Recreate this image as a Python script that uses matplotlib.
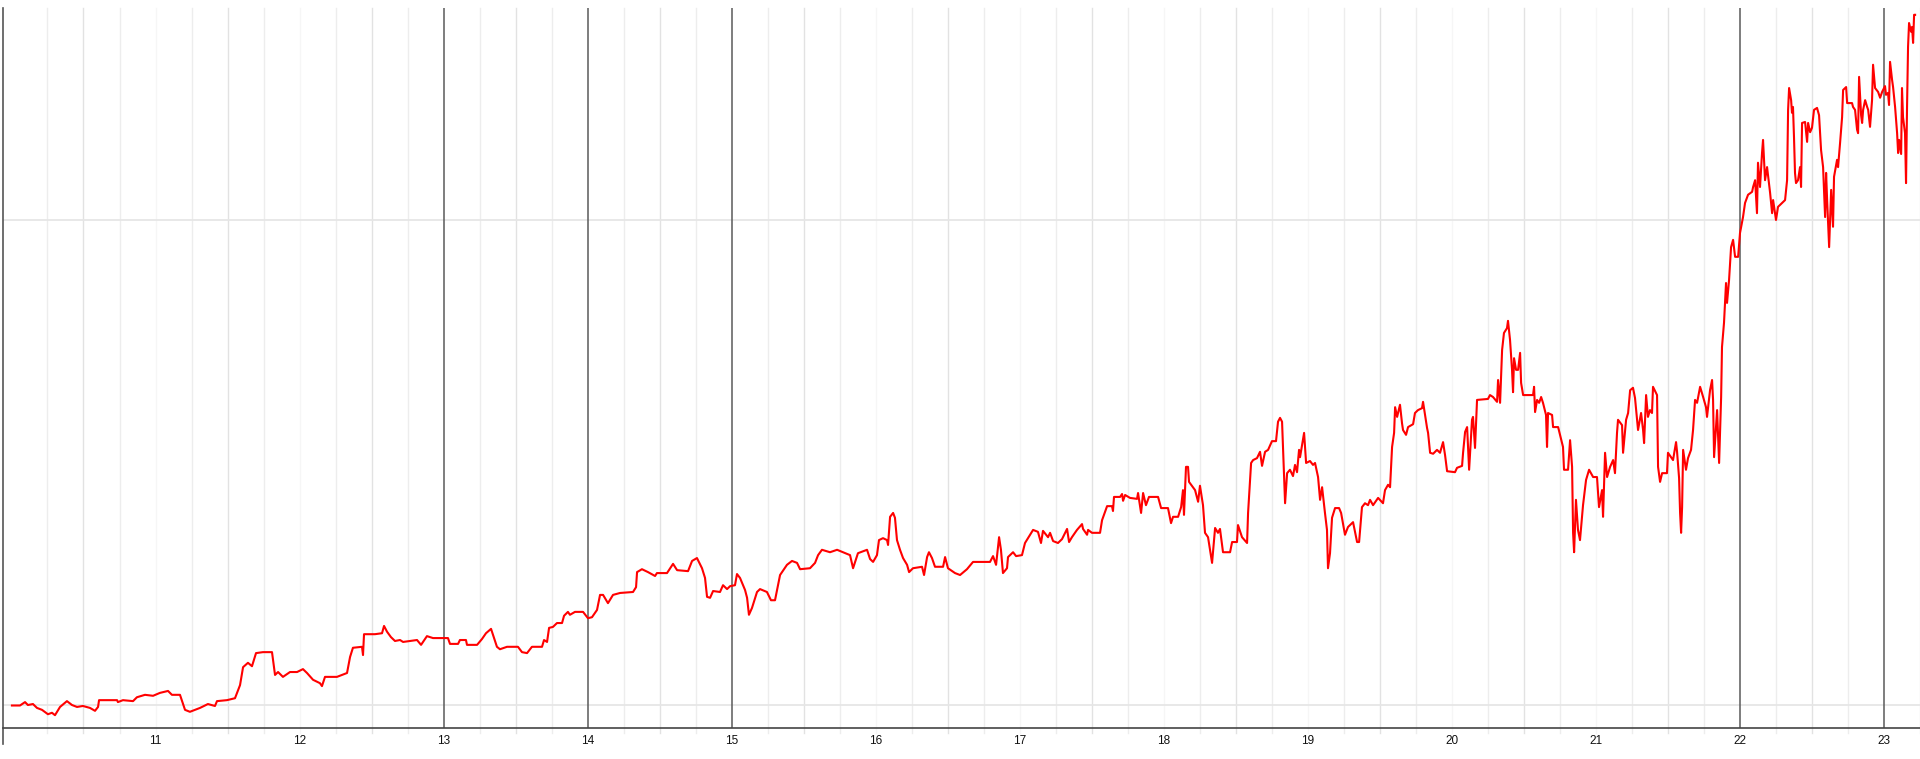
import matplotlib
matplotlib.use("Agg")
import matplotlib.pyplot as plt
import numpy as np

# time axis (fractional units) and series values (gridlines at 0 and 100)
t = [10.003, 10.059, 10.094, 10.114, 10.149, 10.177, 10.212, 10.253, 10.281, 10.302,
     10.337, 10.385, 10.420, 10.455, 10.496, 10.545, 10.580, 10.601, 10.608, 10.733,
     10.739, 10.774, 10.844, 10.871, 10.927, 10.983, 11.031, 11.087, 11.114, 11.170,
     11.205, 11.239, 11.309, 11.364, 11.413, 11.427, 11.496, 11.552, 11.587, 11.608,
     11.642, 11.670, 11.698, 11.746, 11.809, 11.816, 11.830, 11.851, 11.885, 11.934,
     11.983, 12.024, 12.052, 12.094, 12.142, 12.156, 12.177, 12.260, 12.330, 12.351,
     12.371, 12.434, 12.441, 12.448, 12.524, 12.573, 12.587, 12.608, 12.635, 12.663,
     12.698, 12.719, 12.816, 12.844, 12.885, 12.927, 13.031, 13.045, 13.101, 13.114,
     13.156, 13.163, 13.233, 13.267, 13.295, 13.330, 13.351, 13.371, 13.392, 13.441,
     13.517, 13.545, 13.580, 13.614, 13.684, 13.698, 13.719, 13.733, 13.760, 13.788,
     13.823, 13.837, 13.864, 13.878, 13.913, 13.969, 14.003, 14.031, 14.066, 14.087,
     14.108, 14.142, 14.177, 14.226, 14.316, 14.337, 14.344, 14.378, 14.420, 14.469,
     14.482, 14.552, 14.594, 14.622, 14.698, 14.726, 14.760, 14.795, 14.816, 14.830,
     14.851, 14.872, 14.920, 14.941, 14.969, 14.990, 15.024, 15.038, 15.059, 15.094,
     15.108, 15.121, 15.142, 15.177, 15.198, 15.246, 15.274, 15.302, 15.337, 15.385,
     15.420, 15.455, 15.476, 15.545, 15.580, 15.601, 15.628, 15.684, 15.733, 15.823,
     15.844, 15.878, 15.941, 15.962, 15.983, 16.010, 16.024, 16.052, 16.080, 16.087,
     16.101, 16.122, 16.135, 16.149, 16.170, 16.191, 16.219, 16.233, 16.260, 16.323,
     16.337, 16.358, 16.371, 16.392, 16.413, 16.469, 16.483, 16.503, 16.552, 16.587,
     16.635, 16.677, 16.795, 16.816, 16.837, 16.858, 16.871, 16.885, 16.913, 16.920,
     16.955, 16.976, 17.017, 17.038, 17.094, 17.128, 17.149, 17.163, 17.198, 17.212,
     17.233, 17.267, 17.295, 17.330, 17.344, 17.364, 17.399, 17.434, 17.441, 17.469,
     17.476, 17.503, 17.559, 17.573, 17.608, 17.642, 17.649, 17.656, 17.698, 17.712,
     17.719, 17.733, 17.767, 17.816, 17.823, 17.844, 17.858, 17.878, 17.899, 17.962,
     17.983, 18.031, 18.052, 18.066, 18.101, 18.122, 18.135, 18.142, 18.156, 18.170,
     18.177, 18.219, 18.240, 18.253, 18.274, 18.288, 18.309, 18.337, 18.358, 18.378,
     18.392, 18.413, 18.462, 18.476, 18.510, 18.517, 18.545, 18.580, 18.587, 18.608,
     18.622, 18.649, 18.670, 18.684, 18.705, 18.726, 18.753, 18.781, 18.795, 18.809,
     18.823, 18.830, 18.837, 18.844, 18.858, 18.878, 18.899, 18.913, 18.927, 18.941,
     18.948, 18.976, 18.990, 19.017, 19.038, 19.052, 19.073, 19.087, 19.101, 19.121,
     19.135, 19.142, 19.156, 19.170, 19.191, 19.219, 19.233, 19.260, 19.281, 19.316,
     19.344, 19.358, 19.378, 19.399, 19.420, 19.434, 19.455, 19.490, 19.524, 19.538,
     19.559, 19.573, 19.587, 19.601, 19.608, 19.622, 19.642, 19.656, 19.663, 19.684,
     19.698, 19.733, 19.746, 19.767, 19.795, 19.802, 19.830, 19.837, 19.851, 19.872,
     19.899, 19.920, 19.941, 19.955, 19.969, 20.024, 20.038, 20.073, 20.080, 20.094,
     20.108, 20.122, 20.142, 20.149, 20.163, 20.177, 20.253, 20.267, 20.288, 20.316,
     20.323, 20.337, 20.351, 20.364, 20.385, 20.392, 20.406, 20.420, 20.427, 20.434,
     20.448, 20.462, 20.476, 20.483, 20.497, 20.566, 20.573, 20.580, 20.594, 20.608,
     20.622, 20.635, 20.656, 20.663, 20.670, 20.698, 20.705, 20.740, 20.753, 20.774,
     20.781, 20.809, 20.823, 20.837, 20.844, 20.851, 20.864, 20.878, 20.892, 20.913,
     20.934, 20.955, 20.983, 21.010, 21.024, 21.045, 21.052, 21.066, 21.080, 21.101,
     21.122, 21.135, 21.149, 21.156, 21.184, 21.191, 21.212, 21.226, 21.240, 21.260,
     21.274, 21.295, 21.316, 21.330, 21.337, 21.351, 21.364, 21.378, 21.392, 21.399,
     21.427, 21.434, 21.448, 21.462, 21.496, 21.503, 21.538, 21.559, 21.566, 21.580,
     21.587, 21.594, 21.601, 21.608, 21.628, 21.642, 21.663, 21.677, 21.691, 21.705,
     21.726, 21.747, 21.767, 21.774, 21.795, 21.809, 21.816, 21.823, 21.844, 21.858,
     21.872, 21.878, 21.892, 21.906, 21.913, 21.927, 21.941, 21.955, 21.969, 21.990,
     22.003, 22.024, 22.038, 22.059, 22.087, 22.094, 22.108, 22.121, 22.128, 22.142,
     22.156, 22.163, 22.177, 22.191, 22.212, 22.226, 22.233, 22.253, 22.267, 22.295,
     22.316, 22.330, 22.337, 22.344, 22.358, 22.364, 22.371, 22.378, 22.385, 22.392,
     22.406, 22.420, 22.427, 22.434, 22.455, 22.469, 22.476, 22.490, 22.503, 22.517,
     22.538, 22.552, 22.566, 22.580, 22.587, 22.594, 22.601, 22.608, 22.622, 22.636,
     22.649, 22.656, 22.677, 22.684, 22.698, 22.712, 22.719, 22.740, 22.747, 22.781,
     22.788, 22.802, 22.816, 22.823, 22.830, 22.844, 22.851, 22.858, 22.872, 22.886,
     22.893, 22.906, 22.920, 22.927, 22.941, 22.962, 22.976, 22.990, 23.010, 23.017,
     23.031, 23.038, 23.045, 23.059, 23.066, 23.080, 23.094, 23.101, 23.108, 23.122,
     23.128, 23.135, 23.149, 23.156, 23.163, 23.170, 23.177, 23.191, 23.198, 23.205,
     23.212, 23.219]

v = [-0.1, -0.1, 0.6, 0.0, 0.2, -0.6, -1.0, -1.9, -1.6, -2.1,
     -0.4, 0.8, 0.0, -0.4, -0.2, -0.6, -1.2, -0.4, 1.0, 1.0,
     0.6, 1.0, 0.8, 1.6, 2.1, 1.9, 2.5, 2.9, 2.1, 2.1,
     -1.0, -1.4, -0.6, 0.2, -0.2, 0.8, 1.0, 1.4, 4.1, 7.8,
     8.7, 8.0, 10.7, 10.9, 10.9, 9.3, 6.2, 6.8, 5.8, 6.8,
     6.8, 7.4, 6.6, 5.2, 4.5, 3.9, 5.8, 5.8, 6.6, 9.9,
     11.8, 12.0, 10.3, 14.6, 14.6, 14.8, 16.3, 15.1, 14.0, 13.2,
     13.4, 13.0, 13.4, 12.4, 14.2, 13.8, 13.8, 12.6, 12.6, 13.4,
     13.4, 12.4, 12.4, 13.6, 14.8, 15.7, 13.8, 12.0, 11.5, 12.0,
     12.0, 10.9, 10.7, 12.0, 12.0, 13.4, 13.0, 15.9, 16.1, 16.9,
     16.9, 18.4, 19.2, 18.6, 19.2, 19.2, 17.9, 18.1, 19.6, 22.7,
     22.7, 21.0, 22.7, 23.1, 23.3, 24.3, 27.4, 28.0, 27.4, 26.6,
     27.2, 27.2, 29.1, 27.8, 27.6, 29.7, 30.3, 28.2, 26.2, 22.3,
     22.1, 23.5, 23.3, 24.7, 23.9, 24.5, 24.7, 27.0, 26.2, 23.7,
     22.1, 18.6, 20.0, 23.3, 23.9, 23.3, 21.6, 21.6, 26.8, 28.9,
     29.7, 29.3, 28.0, 28.2, 29.3, 30.9, 32.0, 31.5, 32.0, 30.9,
     28.2, 31.3, 32.0, 30.1, 29.5, 30.9, 34.0, 34.4, 34.0, 33.0,
     38.8, 39.6, 38.6, 34.0, 32.0, 30.3, 28.9, 27.4, 28.2, 28.5,
     26.8, 30.5, 31.5, 30.3, 28.5, 28.5, 30.5, 28.2, 27.2, 26.8,
     28.0, 29.5, 29.5, 30.7, 28.9, 34.6, 32.0, 27.2, 28.2, 30.5,
     31.5, 30.7, 30.9, 33.4, 36.1, 35.7, 33.4, 35.9, 34.6, 35.5,
     33.8, 33.4, 34.2, 36.3, 33.6, 34.6, 36.1, 37.3, 36.3, 35.1,
     36.1, 35.5, 35.5, 38.1, 41.0, 41.0, 40.0, 42.9, 42.9, 43.5,
     42.1, 43.3, 42.7, 42.5, 43.7, 39.6, 43.7, 41.2, 42.9, 42.9,
     40.6, 40.6, 37.5, 38.8, 38.8, 40.8, 44.3, 39.2, 49.1, 49.1,
     46.0, 44.3, 41.9, 45.2, 41.2, 35.5, 34.6, 29.3, 36.5, 35.5,
     36.3, 31.5, 31.5, 33.6, 33.6, 37.1, 34.6, 33.4, 39.6, 49.9,
     50.5, 50.9, 52.2, 49.3, 52.2, 52.6, 54.4, 54.4, 58.4, 59.2,
     58.4, 52.6, 47.0, 41.6, 47.8, 48.5, 47.2, 49.5, 48.0, 52.6,
     51.1, 56.1, 49.9, 50.3, 49.5, 49.9, 47.0, 42.3, 44.9, 39.6,
     36.1, 28.2, 31.3, 38.6, 40.6, 40.6, 39.6, 35.1, 36.7, 37.7,
     33.6, 33.6, 40.8, 41.6, 41.2, 42.3, 41.2, 42.7, 41.6, 44.3,
     45.4, 44.9, 53.2, 56.1, 61.4, 59.4, 61.9, 58.1, 56.7, 55.7,
     57.3, 57.9, 60.2, 60.8, 61.2, 62.5, 57.1, 56.1, 52.0, 51.8,
     52.6, 52.0, 54.2, 51.5, 48.2, 48.0, 48.9, 49.3, 52.0, 56.3,
     57.3, 48.5, 58.8, 59.4, 53.0, 62.9, 63.1, 63.9, 63.5, 62.5,
     67.0, 62.3, 73.2, 76.7, 77.7, 79.2, 75.3, 69.1, 64.5, 71.5,
     69.1, 69.1, 72.6, 66.4, 63.9, 63.9, 65.6, 60.4, 62.9, 62.3,
     63.5, 62.3, 59.8, 53.2, 60.2, 59.8, 57.3, 57.3, 55.7, 53.2,
     48.5, 48.5, 54.6, 49.1, 35.5, 31.5, 42.3, 36.1, 34.0, 41.2,
     46.4, 48.5, 47.0, 47.0, 40.8, 44.3, 38.8, 52.0, 47.0, 49.1,
     50.5, 47.8, 56.1, 58.8, 57.7, 52.0, 58.8, 60.2, 64.9, 65.4,
     63.3, 56.7, 60.2, 56.7, 54.0, 63.9, 59.4, 60.8, 60.2, 65.6,
     63.9, 49.1, 46.0, 47.8, 47.8, 52.0, 50.5, 54.2, 52.2, 46.8,
     39.6, 35.5, 40.8, 52.6, 48.5, 50.9, 52.6, 56.7, 62.9, 62.3,
     65.6, 63.5, 61.4, 59.4, 64.9, 67.0, 62.9, 51.1, 60.8, 49.9,
     63.5, 73.8, 78.8, 87.0, 82.9, 87.6, 94.4, 95.9, 92.4, 92.4,
     97.3, 100.6, 103.5, 105.2, 105.8, 106.8, 108.2, 101.4, 111.8, 106.8,
     113.8, 116.5, 108.2, 110.9, 105.6, 101.4, 104.1, 100.0, 102.7, 103.5,
     104.1, 108.2, 122.7, 127.2, 124.7, 122.1, 123.3, 117.1, 109.7, 107.6,
     108.2, 110.9, 106.8, 120.0, 120.2, 116.1, 120.0, 118.1, 119.0, 122.7,
     123.1, 121.6, 114.4, 110.9, 105.6, 100.6, 109.7, 104.1, 94.4, 106.2,
     98.6, 108.9, 112.4, 110.9, 115.9, 121.2, 126.8, 127.4, 124.1, 124.1,
     123.3, 122.7, 118.6, 117.9, 129.5, 121.6, 120.0, 122.7, 124.7, 123.3,
     122.7, 119.2, 124.7, 132.0, 127.2, 126.4, 125.2, 126.4, 127.6, 125.8,
     126.2, 123.7, 132.6, 128.9, 127.4, 123.3, 117.9, 113.8, 116.5, 113.6,
     127.2, 121.2, 117.9, 107.6, 123.3, 135.7, 140.6, 138.8, 139.8, 136.5,
     142.3, 142.3]

tick_vals = list(range(11, 24))
tick_labels = [str(k) for k in tick_vals]
dark_lines = [13, 14, 15, 22, 23]
h_lines = [0, 100]

fig = plt.figure(figsize=(19.2, 7.59), dpi=100)
ax = fig.add_axes([3 / 1920, 1 - 728 / 759, 1 - 3 / 1920, 720 / 759])
ax.set_xlim(9.941, 23.253)
ax.set_ylim(-4.74, 143.7)

# light quarter grid, slightly poking below the axis
ext = -5 / 720
for q in np.arange(10.25, 23.3, 0.25):
    if round(q) in dark_lines and abs(q - round(q)) < 1e-6:
        continue
    frac = q % 1
    if abs(frac) < 1e-6:
        col = "#f6f6f6"
    elif abs(frac - 0.5) < 1e-6:
        col = "#e2e2e2"
    else:
        col = "#ededed"
    ax.axvline(q, ymin=ext, ymax=1, color=col, lw=1.0, clip_on=False, zorder=1)

for d in dark_lines:
    ax.axvline(d, color="#5a5a5a", lw=1.1, zorder=2)

for h in h_lines:
    ax.axhline(h, color="#e6e6e6", lw=1.3, zorder=1)

ax.plot(t, v, color="#ff0000", lw=1.5, zorder=3)

for s in ["top", "right"]:
    ax.spines[s].set_visible(False)
ax.spines["bottom"].set_color("#444444")
ax.spines["bottom"].set_linewidth(1.2)
ax.spines["left"].set_color("#555555")
ax.spines["left"].set_linewidth(1.2)
ax.spines["left"].set_bounds(-8, 143.7)

ax.set_yticks([])
ax.set_xticks(tick_vals)
ax.set_xticklabels(tick_labels, fontsize=8.5, family="Liberation Sans", color="#111111")
ax.tick_params(axis="x", length=0, pad=5)

fig.savefig("out.png", dpi=100)
